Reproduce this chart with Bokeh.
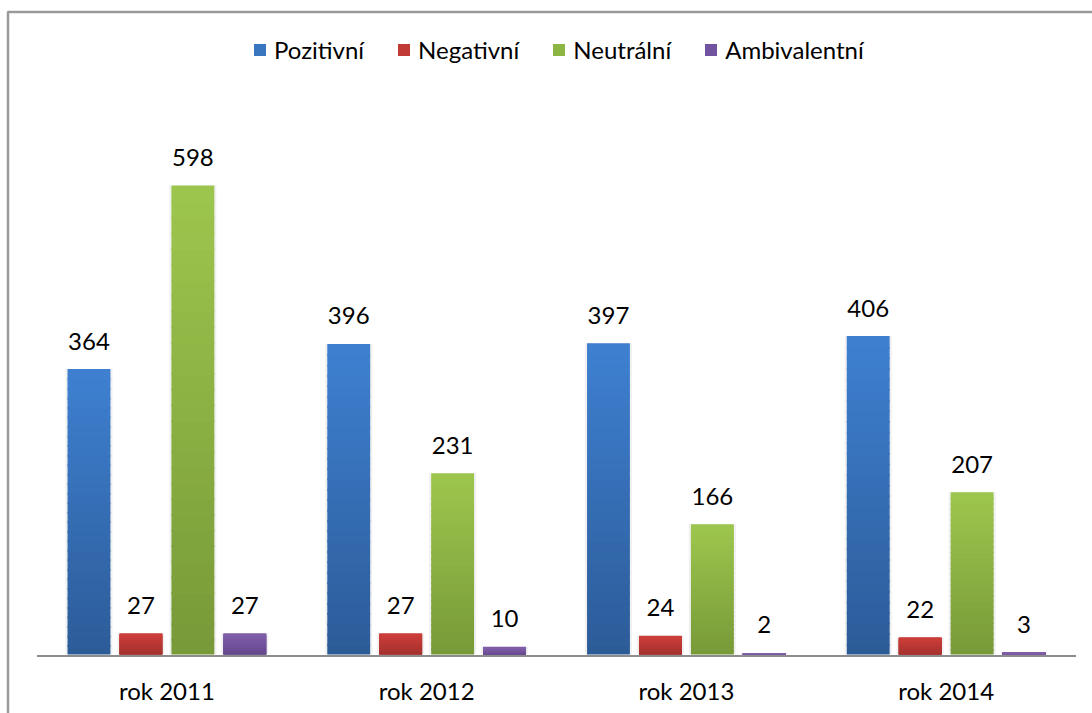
from bokeh.plotting import figure
from bokeh.models import ColumnDataSource, Range1d, Legend, LegendItem
from bokeh.embed import file_html
from bokeh.resources import INLINE
from bokeh.core.properties import value

# ---- data ----
categories = ["rok 2011", "rok 2012", "rok 2013", "rok 2014"]
series_names = ["Pozitivní", "Negativní", "Neutrální", "Ambivalentní"]
pozitivni = [364, 396, 397, 406]
negativni = [27, 27, 24, 22]
neutralni = [598, 231, 166, 207]
ambivalentni = [27, 10, 2, 3]
series_values = [pozitivni, negativni, neutralni, ambivalentni]

# ---- style ----
W, H = 1092, 713
FONT = "Lato"
FS = "24px"
colors_top = ["#3e80d1", "#cc3d39", "#9dc64d", "#805da9"]
colors_bot = ["#2c5b97", "#9f302d", "#779938", "#61468a"]
colors_mid = ["#3a75c0", "#c03a36", "#8db543", "#7153a0"]
offsets = [-0.3, -0.1, 0.1, 0.3]
BAR_W = 0.165

# screen mapping (category unit = 259.75 px, first category centre at 166.4 px)
PX_CAT = 259.75
x_start = -166.4 / PX_CAT
x_end = x_start + W / PX_CAT
PX_Y = 469.0 / 598.0
BASE_PX = 654.0
y_start = -(H - BASE_PX) / PX_Y
y_end = y_start + H / PX_Y


def xd(px):
    return x_start + px / PX_CAT


def yd(py):
    return y_end - py / PX_Y


p = figure(width=W, height=H, output_backend="svg", toolbar_location=None,
           x_axis_type=None, y_axis_type=None,
           x_range=Range1d(x_start, x_end), y_range=Range1d(y_start, y_end),
           min_border=0, min_border_left=0, min_border_right=0,
           min_border_top=0, min_border_bottom=0)
p.outline_line_color = None
p.grid.visible = False
p.background_fill_color = "white"
p.border_fill_color = "white"


def hex2rgb(h):
    h = h.lstrip("#")
    return tuple(int(h[i:i + 2], 16) for i in (0, 2, 4))


def mix(c1, c2, t):
    a, b = hex2rgb(c1), hex2rgb(c2)
    return "#%02x%02x%02x" % tuple(round(a[i] + (b[i] - a[i]) * t) for i in range(3))


N = 30
OVERLAP = 2.5
legend_items = []
for s, vals in enumerate(series_values):
    xs = [i + offsets[s] for i in range(len(categories))]
    # soft shadow
    p.vbar(x=xs, width=BAR_W + 0.016, top=vals, bottom=0,
           fill_color="black", fill_alpha=0.06, line_color=None)
    sx, sb, st, sc = [], [], [], []
    for i, v in enumerate(vals):
        for k in range(N):
            sx.append(xs[i])
            sb.append(max(0.0, v * k / N - (OVERLAP if k > 0 else 0.0)))
            st.append(v * (k + 1) / N)
            sc.append(mix(colors_bot[s], colors_top[s], (k + 0.5) / N))
    src = ColumnDataSource(dict(x=sx, bottom=sb, top=st, color=sc))
    p.vbar(x="x", width=BAR_W, bottom="bottom", top="top", source=src,
           fill_color="color", line_color=None)
    # legend swatch renderer (kept outside the visible range)
    dummy = p.vbar(x=[x_end + 5], bottom=[y_end + 50], top=[y_end + 100], width=BAR_W,
                   fill_color=colors_mid[s], line_color=None)
    legend_items.append(LegendItem(label=series_names[s], renderers=[dummy]))
    # value labels
    p.text(x=xs, y=vals, text=[str(v) for v in vals], text_align="center",
           text_baseline="alphabetic", y_offset=-28,
           text_font=value(FONT), text_font_size=FS, text_color="black")

# category axis line
p.segment(x0=[-0.5], y0=[-2], x1=[len(categories) - 0.5], y1=[-2],
          line_color="#8c8c8c", line_width=2)
# category labels
p.text(x=list(range(len(categories))), y=[0] * len(categories), text=categories,
       text_align="center", text_baseline="alphabetic", y_offset=36,
       text_font=value(FONT), text_font_size=FS, text_color="black")

# chart border (left and top edges visible in the crop)
p.segment(x0=[xd(7.5), xd(7)], y0=[yd(11), yd(11.5)], x1=[xd(7.5), xd(W)], y1=[yd(H), yd(11.5)],
          line_color="#9a9a9a", line_width=2.5)

legend = Legend(items=legend_items, orientation="horizontal",
                location=(252, H - 64), padding=0, margin=0,
                glyph_width=15, glyph_height=15, label_standoff=7, spacing=32,
                label_text_font=FONT, label_text_font_size=FS,
                label_text_color="black", background_fill_alpha=0,
                border_line_color=None, label_height=28)
p.add_layout(legend)

open("out.html", "w").write(file_html(p, INLINE))
